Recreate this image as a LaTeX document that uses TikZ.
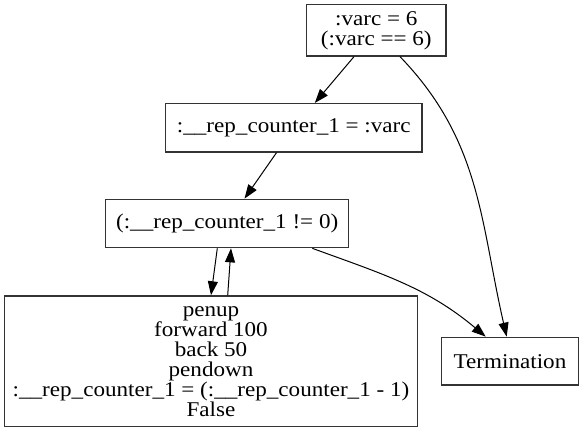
\documentclass[tikz,border=0pt]{standalone}
\usepackage{fontspec}
\setmainfont{Liberation Serif}[FakeStretch=1.1]
\usetikzlibrary{arrows.meta}
\begin{document}
\begin{tikzpicture}[x=0.5pt,y=-0.5pt]
  \useasboundingbox (0,0) rectangle (584,432);
  \tikzstyle{every node} = [draw=black!80, line width=0.65pt, rectangle, align=center, inner sep=0pt, font=\fontsize{10.5}{10}\selectfont]
  \node[minimum width=69.7pt, minimum height=25.7pt] (init) at (376.3,30.3) {:varc = 6\\(:varc == 6)};
  \node[minimum width=128.2pt, minimum height=24.2pt] (assign) at (293.8,127.8) {:\_\_rep\_counter\_1 = :varc};
  \node[minimum width=121.5pt, minimum height=24.2pt] (cond) at (227.2,223.5) {(:\_\_rep\_counter\_1 != 0)};
  \node[minimum width=206.3pt, minimum height=65.4pt] (body) at (211,361.3)
    {penup\\forward 100\\back 50\\pendown\\:\_\_rep\_counter\_1 = (:\_\_rep\_counter\_1 - 1)\\False};
  \node[minimum width=68.7pt, minimum height=23.9pt] (term) at (510,361.2) {Termination};
  \tikzstyle{every node} = []
  \path[>={Triangle[length=7pt,width=5pt]}, ->, line width=0.5pt]
  (init) edge (assign)
  ([xshift=11.85pt]init.south) edge[out=-46, in=103] ([xshift=-1.65pt]term.north);
  \path[>={Triangle[length=7pt,width=5pt]}, ->, line width=0.5pt]
  (assign) edge (cond);
  \path[>={Triangle[length=7pt,width=5pt]}, ->, line width=0.5pt]
  ([xshift=-4.95pt]cond.south) edge (body.north)
  ([xshift=-18.5pt]cond.south east) edge[out=-20, in=140] ([xshift=-12.15pt]term.north);
  \path[>={Triangle[length=7pt,width=5pt]}, ->, line width=0.5pt]
  ([xshift=8.35pt]body.north) edge ([xshift=1.9pt]cond.south);
\end{tikzpicture}
\end{document}
